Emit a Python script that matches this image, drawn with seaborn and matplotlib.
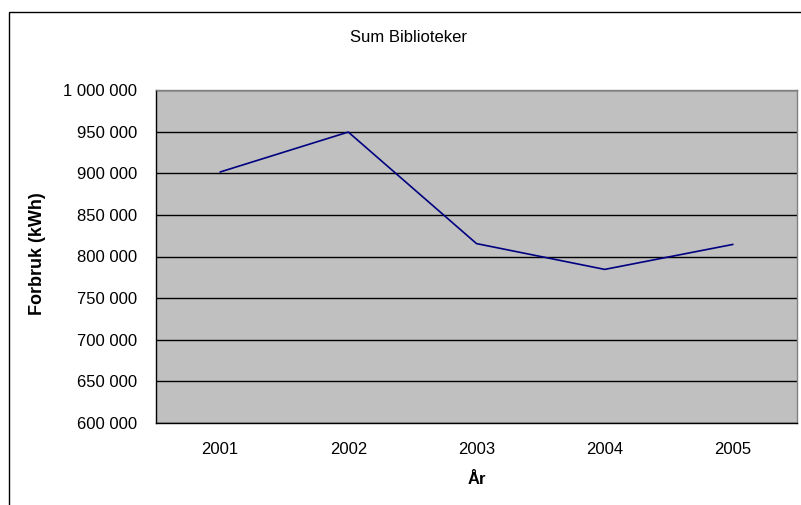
import numpy as np
import pandas as pd
import seaborn as sns
import matplotlib
matplotlib.use("Agg")
import matplotlib.pyplot as plt
from matplotlib.ticker import FuncFormatter, FixedLocator
from matplotlib.patches import Rectangle

years = ["2001", "2002", "2003", "2004", "2005"]
forbruk = [901500, 949500, 815500, 784500, 814500]
y_ticks = list(range(600000, 1000001, 50000))

df = pd.DataFrame({"År": years, "Forbruk": forbruk})

sns.set_style("white")
plt.rcParams["font.family"] = ["Liberation Sans", "DejaVu Sans"]
plt.rcParams["text.color"] = "black"
plt.rcParams["xtick.color"] = "black"
plt.rcParams["ytick.color"] = "black"

W, H = 801, 505
FS = 12
fig = plt.figure(figsize=(W / 100, H / 100), dpi=100)
ax = fig.add_axes([156 / W, 1 - 423 / H, (797 - 156) / W, (423 - 90) / H])

ax.set_facecolor("#C0C0C0")
sns.lineplot(data=df, x="År", y="Forbruk", ax=ax, color="#000080", linewidth=1.2)

ax.set_ylim(600000, 1000000)
ax.set_xlim(-0.5, len(years) - 0.5)
ax.yaxis.set_major_locator(FixedLocator(y_ticks))
ax.yaxis.set_major_formatter(FuncFormatter(lambda v, p: f"{v:,.0f}".replace(",", " ")))
ax.grid(axis="y", color="black", linewidth=1)
ax.set_axisbelow(True)

ax.set_xticks(range(len(years)))
ax.set_xticklabels(years)
ax.set_xticks(np.arange(-0.5, len(years)), minor=True)
ax.tick_params(axis="x", which="major", length=0, pad=14, labelsize=FS, labelcolor="black")
ax.tick_params(axis="x", which="minor", length=3.6, width=1, color="black", direction="out")
ax.tick_params(axis="y", length=3.6, width=1, color="black", direction="out", pad=10,
               labelsize=FS, labelcolor="black")

for s in ["left", "bottom"]:
    ax.spines[s].set_color("black")
    ax.spines[s].set_linewidth(1)
for s in ["top", "right"]:
    ax.spines[s].set_color("#808080")
    ax.spines[s].set_linewidth(1)

ax.set_xlabel("")
ax.set_ylabel("")
fig.text(477 / W, 1 - 484 / H, "År", ha="center", va="baseline", fontsize=FS,
         fontweight="bold", color="black")
fig.text(38 / W, 1 - 254 / H, "Forbruk (kWh)", ha="center", va="center", rotation=90,
         fontsize=13, fontweight="bold", color="black")
fig.text(408 / W, 1 - 42 / H, "Sum Biblioteker", ha="center", va="baseline", fontsize=FS,
         color="black")

fig.patches.append(Rectangle((9 / W, -0.1), 1.2, 1 - 12 / H + 0.1, transform=fig.transFigure,
                             fill=False, edgecolor="black", linewidth=1))

fig.savefig("out.png", dpi=100)
plt.close(fig)
